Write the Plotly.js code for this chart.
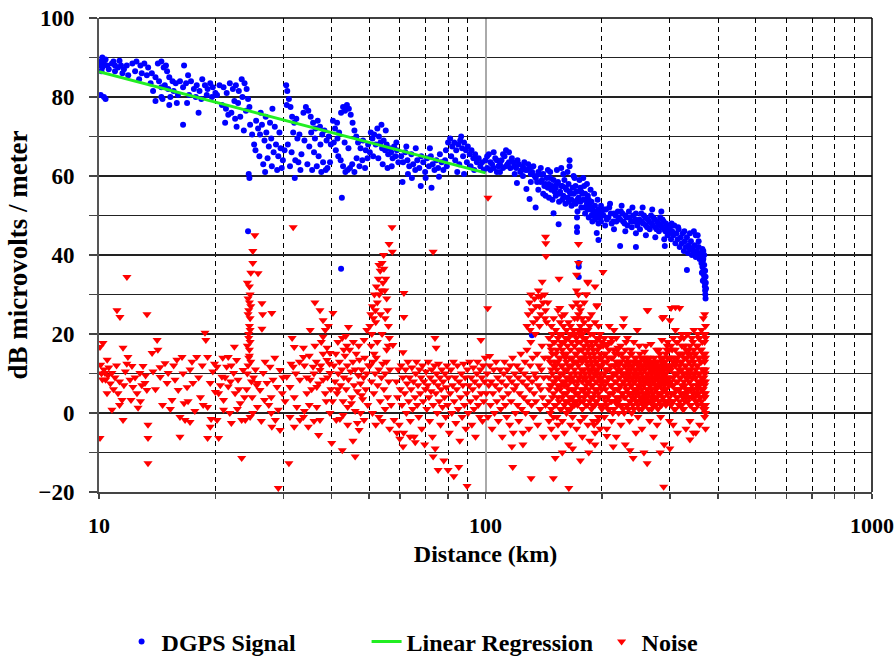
<!DOCTYPE html>
<html>
<head>
<meta charset="utf-8">
<script src="https://cdn.plot.ly/plotly-3.0.1.min.js"></script>
<style>
html,body{margin:0;padding:0;background:#fff;}
#chart{width:894px;height:657px;}
</style>
</head>
<body>
<div id="chart"></div>
<script>
// ---------- DATA ----------
const regressionX = [10, 100];
const regressionY = [86.4, 60.8];

const xTickVals = [10, 100, 1000];
const xTickText = ['10', '100', '1000'];
const xMinorVals = [20, 30, 40, 50, 60, 70, 80, 90, 200, 300, 400, 500, 600, 700, 800, 900];
const yTickVals = [-20, 0, 20, 40, 60, 80, 100];
const yMinorVals = [-10, 10, 30, 50, 70, 90];

// DGPS signal [km, dB]
const signalPoints = [
[10.05,88],[10.1,89],[10.15,86.5],[10.2,90],[10.3,88.5],[10.4,89.5],[10.2,87.5],[10.5,88],[10.1,80.5],[10.3,80],[10.4,79.5],[10.6,87],[10.8,88.5],[11,88],[11.2,87.5],[11.4,88],[11.6,87],[11.8,88],[11,86.5],[11.5,86],[11.9,85.5],[10.9,89],[11.3,89.2],
[12.2,88.5],[12.5,89],[12.8,88],[13.1,88.5],[13.4,87.5],[12.4,86.5],[12.9,86],[13.3,85.5],[13.7,86],[14,85],[14.3,84],[13.6,83.5],[14.5,82.5],[14.8,83],[14.2,88.5],[14.5,89],[14.7,87.5],[15,86.5],[15.2,85],[15.5,84],[15.8,83.5],[15.1,82],[15.6,81.5],[16,80.5],[15.3,80],[15.9,78.5],[14.6,79.5],[13.8,81.5],[12.7,84.5],[14.9,88],[14,79],[14.5,80],[15.2,78],[16.5,73],[16.9,78.5],[18.1,76],
[16.2,84],[16.5,82.5],[16.8,83.5],[17,85.5],[17.3,84],[17.6,82],[17.9,83],[18.2,81.5],[18.5,84.5],[18.8,83],[19.1,82],[19.4,83.5],[19.7,82.5],[20,81],[16.6,88],[17.1,80.5],[17.8,80],[18.4,79.5],[19,80.5],[19.6,80],[20.2,80.5],
[20.5,83],[21,82.5],[21.4,81],[21.8,83.5],[22.2,82],[22.6,83],[23,81.5],[23.4,84.5],[23.8,83.5],[24.1,82],[22.4,79],[22.9,78.5],[23.5,80],[24.3,79.5],[20.8,78],[21.3,77],[21.6,75.5],[22,76],[22.5,74.5],[23.2,75],[24,76.5],[24.5,77.5],[21.2,73.5],[22.7,72.5],[23.7,71.5],[24.6,73],[24.4,60.5],[24.5,59.5],[24.9,70.5],[25.2,68],
[25.5,74],[25.8,72],[26.1,70.5],[26.4,73],[26.8,69],[27.1,71],[27.5,67.5],[27.9,69.5],[28.3,66],[28.7,68],[29.1,65],[29.5,67],[29.9,64],[25.4,66.5],[26,65],[26.6,63],[27.3,64.5],[28,62.5],[28.9,61.5],[29.7,62],[26.2,76],[27,75],[27.7,73.5],[28.5,72.5],[29.3,71],[28.1,77],[26.9,61],[30.2,66.5],
[30.5,83],[30.7,81.5],[31,79.5],[30.6,78],[31.3,77.5],[31.6,75],[32,73.5],[32.4,74.5],[31.8,71],[32.6,69.5],[33,70.5],[30.8,68],[31.5,66],[32.2,64],[32.8,63.5],[31.2,62.5],[33.4,65.5],[33.2,61.5],[32.1,59.5],
[33.8,76],[34.3,77.5],[34.8,76.5],[35.3,75],[35.8,73.5],[36.3,72],[36.8,74],[37.3,72.5],[37.8,70.5],[38.3,71.5],[38.8,69],[39.3,70],[39.8,68],[34,69],[35,67.5],[36,66],[37,65],[38,63.5],[39,62],[34.6,63],[35.6,61.5],[36.6,62.5],[37.6,61],[38.6,61.5],[39.6,63.5],[36.2,69.5],[35.4,71],[37.4,68],
[40.3,74],[40.8,72],[41.3,73.5],[41.8,71],[42.3,76],[42.8,77.5],[43.3,76.5],[43.8,78],[44.3,77],[44.8,75.5],[45.3,73.5],[45.8,71.5],[46.3,70],[46.8,68.5],[47.5,67],[48.2,69],[49,66.5],[49.7,68],[41,66.5],[41.6,65],[42.2,64],[42.8,62.5],[43.4,61],[44,61.5],[44.6,62],[45.2,63],[45.8,61],[46.4,64.5],[47.2,62.5],[48,64],[48.8,62],[49.5,64.5],[42.5,54.5],[43.2,68.5],[44.2,67],[40.5,68.5],[41.4,69.5],
[50.5,71],[51,69.5],[51.5,70.5],[52,68],[52.5,72],[53,70],[53.5,68.5],[54,67],[54.5,69],[55,66.5],[55.5,68],[56,65.5],[56.5,67],[57,66],[57.5,64.5],[58,67.5],[58.5,65],[59,66.5],[59.5,63.5],[51.2,65],[52.8,64.5],[54.2,63],[55.8,62],[57.2,62.5],[50.2,66],[53.8,73],[55.2,71.5],[58.8,68.5],
[60.5,65],[61.2,63.5],[62,66],[62.8,64],[63.5,62.5],[64.3,65.5],[65,63],[65.8,61.5],[66.6,64],[67.4,62],[68.2,65],[69,63.5],[69.8,61],[70.6,64.5],[71.4,62.5],[72.2,65],[73,63],[73.8,61.5],[74.6,64],[75.4,62],[76.2,65.5],[77,63.5],[77.8,61.5],[78.6,64],[79.4,62.5],[61,58.5],[64.5,59.5],[68,57.5],[72.5,57],[63,60.5],[70,59.5],[75.8,59.8],[62.4,67.5],[66,67],[71.8,67],[79,66.5],
[80,68.5],[81,69.5],[82,67.5],[83,68.5],[84,66.5],[85,68],[86,69],[87,67],[88,68.5],[89,66.5],[90,67.5],[91,65.5],[92,66.5],[93,64.5],[94,65.5],[95,63.5],[96,64.5],[97,62.5],[98,63.5],[99,61.5],[81.5,65],[83.5,64],[85.5,63],[87.5,65],[89.5,63.5],[91.5,62.5],[93.5,61.5],[84.5,61],[88,60.5],[86.5,70],
[100,64],[102,65.5],[104,63],[106,64.5],[108,62.5],[110,64],[112,65],[114,63],[116,62],[118,63.5],[120,62],[122,63],[124,61.5],[126,63.5],[128,61.5],[130,62],[132,61],[134,60],[136,58.5],[138,60.5],[140,59],[142,57.5],[144,59.5],[146,58],[148,56.5],[150,59],[152,57],[154,58.5],[156,56],[158,57.5],[160,59],[162,56.5],[164,58],[166,55.5],[168,57],[170,59.5],[172,56],[174,54.5],[103,61.5],[107,61],[111,62],[115,66],[119,60.5],[125,60],[131,58.5],[137,56.5],[143,55],[149,54],[155,53.5],[161,53],[167,52.5],[165,64],[165,62.5],[120.6,58.2],[127.6,56.7],[130,54.2],[134.8,52],[154.6,47.8],[150,50.6],[147,61],[153,61.5],[159,60.5],[105,66],[113,66.5],[101,62],[109,61],[139,62],[145,61.5],[157,62],[163,61],[169,60],[171,53],[173,51],
[101,65],[103,63.5],[105,62],[107,64],[109,63],[111,65.5],[113,62.5],[115,63.5],[117,64.5],[119,62.5],[121,64],[123,61],[125,62.5],[127,61.5],[129,63],[131,60.5],[133,62.5],[135,59.5],[137,61],[139,58.5],[141,60.5],[143,58],[145,57],[147,59.5],[149,57.5],[151,56],[153,58],[155,55.5],[157,57.5],[159,55],[161,57],[163,54.5],[165,56],[167,54],[169,55.5],[171,57.5],[173,54],[141,55.5],[146,54.5],[152,55],[158,54],[164,53.5],[170,53.5],
[172.5,49.5],[172.5,47],[172.5,45.8],[174.3,38],[174.3,37],[174.3,34.4],[176,57],[178,55.5],[180,57.5],[182,54],[184,55],[186,52.5],[188,53.5],[190,51],[192,52.5],[194,50.5],[196,51.5],[198,49.5],[200,51],[177,52],[181,50.5],[185,49.5],[189,48.5],[175,59],[179,59.5],[183,58],[187,56.5],[191,55.5],[195,54],[199,52.5],[194,45.6],[196,43.8],
[177,56],[179,54],[181,55.5],[183,53],[185,54],[187,51.5],[189,52],[191,50],[193,51],[195,49.5],[197,50.5],[199,48.5],[176,53.5],[180,52],[184,51.5],[188,50],[192,49],[196,48],
[202,50],[205,51.5],[208,49.5],[211,50.5],[214,48.5],[217,50],[220,51],[223,49],[226,50.5],[229,48],[232,49.5],[235,51],[238,48.5],[241,50],[244,49],[247,47.5],[250,49],[253,50.5],[256,48],[259,49.5],[262,47],[265,48.5],[268,50],[271,47.5],[274,49],[277,46.5],[280,48],[283,49.5],[286,47],[289,48.5],[292,46],[295,47.5],[298,45.5],[204,47.5],[215,46.5],[230,46],[245,45.5],[260,45],[275,44.5],[290,44],[210,53],[225,52.5],[240,52],[255,52],[270,51.5],[285,51],[223,42.3],[245,42],[291,42.3],
[203,51.5],[206,49],[209,52],[212,48],[215,50.5],[218,48.5],[221,49.5],[224,51],[227,48.5],[230,50],[233,47.5],[236,49.5],[239,47],[242,48.5],[245,50.5],[248,48],[251,46.5],[254,48.5],[257,50],[260,47.5],[263,49],[266,46.5],[269,48],[272,49.5],[275,47],[278,48.5],[281,46],[284,47.5],[287,49],[290,46.5],[293,48],[296,45],[299,46.5],
[300,47],[304,46],[308,47.5],[312,45.5],[316,46.5],[320,44.5],[324,45.5],[328,43.5],[332,44.5],[336,42.5],[340,43.5],[344,41.5],[348,42.5],[352,41],[356,42],[360,40.5],[364,41.5],[368,40],[302,44],[310,43],[318,42],[326,41],[334,40.5],[342,40],[350,39.5],[358,39],[365,38.5],[338,45.5],[346,46],[354,45],
[306,45],[314,44],[322,43],[330,42],[338,41.5],[346,40.5],[354,40],[362,39.5],[303,48],[315,47],[327,46],[340,41.5],[356,43.5],[366,41],
[362,38],[364,37],[366,36],[367,35],[368,34],[369,33],[369.5,32],[370,31],[370.5,30],[371,29],[366,39],[368,37.5],[370,36],[371,34.5],[371.5,33],[372,31.5],[363,35.5],[365,33.5],[350,45],[332,36.2],
[24.3,46],[42.3,36.5],[131.9,19.7]
];

// Noise, scattered points [km, dB]
const noisePoints = [
[10.06,16.7],[10.24,17.7],[10.06,-6.3],[10.1,12.2],[10.15,10],[10.2,8.5],[10.3,11],[10.36,10.1],[10.4,8.4],[10.49,5],[10.55,9.5],[10.6,11.5],[10.7,7.5],[10.8,10.1],[10.8,0.8],[10.9,6],[11,9],[11.1,12],[11.2,5],[11.3,8],[11.47,3.3],[11.54,-1.8],[11.54,16.5],[11.6,7],[11.7,10.5],[11.88,14.2],[12.03,8.4],[12.17,11.9],[12.1,3.3],[12.24,6.6],[12.4,9],[12.54,5],[12.62,1.3],[12.76,10.1],[12.9,7],[13,11.9],[13.15,7.6],[13.3,5.8],[13.39,-3],[13.39,-6.3],[13.39,-12.7],[11.13,26],[11.33,24.3],[11.81,34.4],[13.31,25],[11.3,2],[12.8,3],[13.2,9.5],[10.5,13.5],[11.8,12.5],
[13.72,15.2],[14.14,18.5],[14.2,16],[14.38,11.6],[14.4,9.1],[14.82,12.6],[15,7.6],[15.1,10.1],[15.45,3.3],[15.6,12],[15.73,8.4],[16.03,5.8],[16.2,-1],[16.4,14.2],[16.5,10],[16.7,-1.8],[16.9,6.5],[17.2,-2.3],[17.2,11],[17.5,7.6],[17.9,14.2],[18.1,9],[18.3,4],[18.5,12],[18.8,20.3],[18.9,18.5],[19.1,14.2],[19.4,7.6],[19.1,1.5],[19.1,-6.3],[19.4,-3.5],[19.5,-1.5],[20,5.3],[14,6],[14.6,2],[15.3,1],[16.2,-6],[17,3],[17.7,0.5],[18.6,2],[19.7,10.5],[13.8,10.5],[15.9,13.5],[16.6,2.5],[17.4,13],[19.9,12.5],
[20.2,11.7],[20.4,5],[20.8,9.2],[21,3.3],[21.4,11.7],[21.6,6.7],[21.8,0],[22.3,10.1],[22.5,5],[22.7,13.4],[22.9,8.4],[23.2,2.5],[23.6,10.9],[23.9,-1.8],[20.2,-1.8],[20.4,-6.3],[21,0.8],[22,-2.5],[23.4,-1.8],[23.4,-11.4],[22.4,16.8],[21.6,14.2],[20.6,7],[21.2,9],[22,12],[23,6],[23.8,4],[20.9,14],[22.8,1],[21.9,8],
[24.2,10],[24.3,12],[24.4,14],[24.5,16],[24.6,18],[24.4,20],[24.5,22],[24.6,24],[24.4,26],[24.5,28],[24.6,30],[24.5,32],[24.2,33],[24.7,35.5],[25.8,35.4],[25,38],[25,41],[25.3,45],[24.2,17],[24.3,25],[24.7,13],[24.8,8],[24.1,6],[24.9,4],[25.1,9],[25.4,11],[25.6,7],[24.4,19],[24.6,21],[24.3,29],[24.5,14.5],[24.7,27],[26.4,27.8],[26.5,25],[26.4,21.3],[28,25.3],
[26.6,10.1],[27.2,7.6],[27.7,11.7],[28.2,8.4],[27.9,4],[28.9,6.6],[29.4,10.9],[29.8,5],[29.1,0.8],[28.6,-1.8],[27.9,0],[29.4,-4.3],[26.1,5.8],[25.7,7.6],[25.7,1.5],[24.6,-1],[25,0],[26.8,3.3],[29.1,-19],[26.9,13],[28.5,14],[27.5,2],[26.3,-2],[28,-3.5],[29.9,9],
[30.6,9.2],[31.2,6.6],[31.8,11.7],[32,4],[32.5,1.5],[33.1,8.4],[33.8,14.2],[34.5,5],[35.2,8.4],[35.8,11.7],[36.6,6.6],[37.3,10.9],[38,8.4],[38.9,13.4],[39.6,10.1],[31.2,-1],[32,-3.5],[33.1,-1.8],[33.8,-1],[34.8,-3.5],[36.6,1.5],[37.3,-1.8],[37,-5.6],[39.6,0],[31,-12.7],[31.8,47],[31.6,19],[32,16.7],[33.8,16.5],[35.2,21],[36.2,28],[37.3,26],[38,23.5],[38.5,21],[40.3,25.3],[39.2,22],[38,19.3],[38.9,16.5],[39.6,15.2],[34,12],[34.5,9],[35,14.5],[35.5,6],[36,10],[36.5,13],[37,7.5],[37.5,12],[38,15],[38.5,5],[39,9],[39.5,12.5],[36.2,17],[37.6,18],[38.7,3],[39.8,6],[33,13],[32.3,10],[31.4,12.5],[30.3,3],[35,2],[36,-2],[34,0.5],
[40.5,12],[40.8,8],[41,15],[41.3,5],[41.6,10],[41.9,13],[42.2,7],[42.5,11],[42.8,3],[43,9],[43.3,14.5],[43.6,6],[43.9,12],[44.2,8.5],[44.5,16],[44.8,10.5],[45.1,4],[45.4,13],[45.7,7],[46,11],[46.3,15],[46.6,5.5],[46.9,9.5],[47.2,13.5],[47.5,7.5],[47.8,11],[48.1,3.5],[48.4,9],[48.7,14],[49,6],[49.3,10],[49.6,2],[41.5,18],[43.5,19.5],[45.5,18],[47,17],[48.5,18.5],[44,1.5],[46,0.5],[42,-1.5],[40.2,3],[42.6,-9.4],[46,-11],[45.4,-7],[40,-7.6],[41.1,-1.8],[42.8,-0.5],[44,-3],[46.6,-2.5],[47.5,0],[48.5,-1.8],[47.1,-4.3],[44.2,21.8],[49.3,21],[42.6,19],[43.8,17],[41.5,6],[43,16],[45,2.5],[47.8,4.5],[49.8,12],
[50.2,22],[50.5,25],[50.8,20],[51,27],[51.3,24],[51.6,30],[51.9,26],[52.2,32],[52.5,28],[52.8,34],[53.1,30],[53.4,36],[53.7,31],[54,38],[54.3,33],[54.6,36.5],[54.9,31],[55.2,34],[55.5,29],[55.8,26],[56.1,22],[56.4,19],[56.3,42.8],[57.3,47],[57.4,40.8],[53,37.5],[54.5,40],[52,23],[53.5,25],[55,24],[56,17],[50.6,17],[51.5,15],[52.5,18],[54,20],[55.5,16],
[50.3,12],[50.7,8],[51.1,13],[51.4,5],[51.8,10],[52.2,14],[52.6,7],[53,11],[53.4,3],[53.8,9],[54.2,12.5],[54.6,6],[55,10],[55.4,13],[55.8,4],[56.2,8],[56.6,11],[57,2],[51,0],[53,-1],[55,1],[52,-3],[54,-2],[56.5,-4],[57.6,17.2],
[58.8,8],[59.2,4],[59.5,11],[59.8,-3],[60.2,6],[60.5,12],[60.8,2],[61.1,9],[61.2,15.4],[61.5,24.3],[61.5,30.4],[61.4,-5],[61.8,5],[62.1,11],[62.4,0],[62.7,7.5],[63,13],[63.3,3],[63.6,9],[63.9,-2],[64.2,6],[64.5,11.5],[64.8,1],[65.1,8],[65.4,-6],[65.7,4],[66,10],[66.3,13],[66.6,2],[66.9,7],[67.2,-1],[67.5,11],[67.8,5],[68.1,9],[68.4,-4],[68.7,12],[69,3],[69.3,8],[69.6,-8],[69.9,6],[70.2,10.5],[70.5,1],[70.8,7],[71.1,13],[71.4,4],[71.7,-2],[72,9],[72.3,5.5],[72.6,11],[72.9,-6],[73.2,2],[73.5,8],[73.8,12],[74.1,-9],[74.4,5],[74.7,10],[75,0],[75.3,7],[75.6,12.5],[75.9,3],[76.2,9],[76.5,-3],[76.8,6],[77.1,11],[77.4,1.5],[77.7,8],[78,-12],[78.3,4],[78.6,10],[78.9,-1],[79.2,6.5],[79.5,12],[79.8,2],[80.2,9],[80.6,-5],[81,5],[81.4,11],[81.8,0],[82.2,7],[82.6,13],[83,3],[83.4,9],[83.8,-2.5],[84.2,6],[84.6,12],[85,1],[85.4,8],[85.8,-7],[86.2,4],[86.6,10],[87,-1],[87.4,7],[87.8,12.5],[88.2,2],[88.6,9],[89,-4],[89.4,5],[89.8,11],[90.2,0],[90.6,7],[91,13],[91.4,3],[91.8,9],[92.2,-3],[92.6,6],[93,11.5],[93.4,1],[93.8,8],[94.2,-6],[94.6,4],[95,10],[95.4,13],[95.8,2],[96.2,7],[96.6,-1],[97,11],[97.4,5],[97.8,9],[98.2,-2],[98.6,12],[99,3],[99.4,8],[99.8,14],
[74,19],[73.2,40.8],[97.3,18.5],[101.3,26.5],[102.5,14.4],[75.4,-14.4],[80,-14.4],[82.8,-16],[89.6,-18.5],[85.3,-13.7],[73.2,-11],[74.5,16.5],[58,-1.8],[59,-5],[60,-6.5],[61.2,-8.5],[63.8,-6],[65.8,-7.4],[101.5,54.5],
[100.5,5],[101,10],[101.5,-1],[102,7],[102.5,12],[103,2],[103.5,8],[104,-4],[104.5,5],[105,11],[105.5,0],[106,7],[106.5,13],[107,3],[107.5,9],[108,-2],[108.5,6],[109,11],[109.5,1],[110,8],[110.5,-6],[111,4],[111.5,10],[112,13],[112.5,2],[113,7],[113.5,-1],[114,11],[114.5,5],[115,9],[115.5,-3],[116,12],[116.5,3],[117,8],[117.5,14],[118,-5],[118.5,6],[119,10],[119.5,0],[120,7],[120.5,12],[121,2],[121.5,9],[122,-2],[122.5,5],[123,11],[123.5,15],[124,1],[124.5,8],[125,-8],[125.5,4],[126,10],[126.5,13],[127,0],[127.5,7],[128,16],[128.5,3],[129,9],[129.5,-4],[130,6],[130.5,12],[131,18],[131.5,2],[132,8],[132.5,14],[133,-1],[133.5,5],[134,10],[134.5,20],[135,3],[135.5,9],[136,15],[136.5,-3],[137,7],[137.5,12],[138,22],[138.5,1],[139,6],[139.5,11],[140,17],[140.5,4],[141,-6],[141.5,9],[142,14],[142.5,24],[143,2],
[128,22],[129,25],[130,28],[130.5,21],[131,30],[132,26],[133,23],[134,29],[135,27],[136,24],[137,31],[138,27],[139,25],[140.2,33.2],[141,28],[142,30],[143,26],[144,23],[145,28],[143,44.6],[143.2,43],[143.4,39.7],[155,34],[137,29.6],[139,29.4],
[131.2,-16.5],[149.8,-16.5],[164.3,-19],[151.5,-11.4],[117.6,-13.7],[117,-8.5],[125,-5],[158,-10],[168,-9],[176,-12],[185,-10],[192,-8],
[201.4,35.7],[194.6,27.3],[183.8,33.2],[182.4,30],[155.7,26.6],[157.5,24.5],[192,32],[228,24],[247,21],[262,26],[289,24.3],[300,23.5],[310,26.8],
[289,-18.7],[262,-12.7],[241,-11.4],[283,-10],[300,-9],[338,-6.7],[345,-5],[236.5,-9.4],[214,-8.5],[206,-5.8],
[205,17.5],[212,19],[220,16.5],[231,18],[238,16],[250,17],[258,15.5],[268,17.5],[277,16],[286,18.5],[295,17]
];

// Noise, dense band columns: distance (km) and the dB values found at it
const noiseColX = [146,148,150,152,154,156,158,160,162,164,166,168,170,172,174,176,178,180,182,184,186,188,190,192,194,196,198,200,
147,149,151,153,155,157,159,161,163,165,167,169,171,173,175,177,179,181,183,185,187,189,191,193,195,197,199,
203,206,209,212,215,218,221,224,227,230,233,236,239,242,245,248,251,254,257,260,263,266,269,272,275,278,281,284,287,290,293,296,299,
201.5,204.5,207.5,210.5,213.5,216.5,219.5,222.5,225.5,228.5,231.5,234.5,237.5,240.5,243.5,246.5,249.5,252.5,255.5,258.5,261.5,264.5,267.5,270.5,273.5,276.5,279.5,282.5,285.5,288.5,291.5,294.5,297.5,
302,306,310,314,318,322,326,330,334,338,342,346,350,354,358,362,366,369,371,
304,308,312,316,320,324,328,332,336,340,344,348,352,356,360,364,367.5,370];
const noiseColY = [
[3,9,14,19,-2,6],[11,1,16,7,22,-4],[5,12,18,-1,8,24],[9,2,15,21,-6,12],[4,13,7,19,-3,26],[10,1,17,6,23,14],[8,-2,12,20,4,16],[2,11,18,7,-5,25],[13,5,9,21,0,15],[6,12,19,3,-8,23],[10,1,16,8,22,-3],[4,14,20,9,-1,27],[11,6,17,2,24,13],[7,15,28,3,19,-4,31,35],[12,5,21,9,30,25,38,42.8,16],[3,10,18,26,-2,14,22],[8,13,20,1,24,-6,16],[6,11,17,23,4,-1,28],[9,14,2,19,30,7],[5,12,21,33,-3,16],[10,3,15,22,8,-7],[7,13,18,1,25,11],[4,9,16,20,-2,12],[11,6,14,23,2,-5],[8,13,3,19,27,10],[5,12,17,-1,9,22],[10,2,15,7,20,-4],[6,12,18,1,9,14],
[0,7,13,17],[4,10,15,20],[2,8,13,18],[6,11,16,-1],[3,9,14,20],[7,12,18,1],[5,10,15,22],[3,8,14,19],[1,7,11,17],[4,9,14,20],[6,12,18,2],[3,8,13,21],[5,10,15,20],[2,8,13,18,24],[4,9,14,20,27],[6,11,16,21],[3,9,14,19],[5,10,15,21],[2,8,13,18],[6,11,17,24],[4,9,14,20],[2,7,12,17],[5,10,15,-3],[3,8,13,18],[6,11,16,-2],[4,9,14,19],[2,8,12,17],
[4,10,15,19,-1,7],[8,13,2,17,11,-4],[5,11,16,22,1,9],[9,3,14,7,18,-2],[6,12,1,16,10,21],[10,4,13,8,19,-6],[3,9,15,6,12,0],[7,11,2,17,13,-3],[5,10,14,22,1,8],[9,4,12,7,16,-8],[6,11,2,14,19,9],[8,3,13,10,5,-2],[4,9,15,7,12,0],[10,6,1,13,8,18],[5,11,3,9,14,-5],[7,12,2,10,6,-1],[9,4,13,8,11,15],[6,10,1,12,4,-4],[8,3,11,7,14,-10],[5,9,2,12,8,17],[10,6,13,4,9,26],[7,3,11,8,14,-2],[4,9,12,6,1,10],[8,11,5,13,3,-6],[6,10,2,9,12,7],[9,4,13,7,11,-3],[5,10,3,12,8,16],[7,11,2,9,14,-1],[4,8,12,6,10,24],[9,3,11,7,13,-8],[6,10,2,12,15,8],[8,5,11,14,3,18],[7,12,4,9,16,-2],
[8,13,2,17],[6,11,3,15],[9,4,14,1],[7,12,3,18],[5,10,14,0],[8,3,12,15],[6,11,2,16],[9,4,13,7],[5,10,2,15],[8,12,4,0],[6,10,13,2],[9,5,12,1],[7,11,3,15],[5,9,12,2],[8,4,11,14],[6,10,3,13],[9,5,12,1],[7,11,3,14],[5,9,12,2],[8,4,11,13],[6,10,3,14],[9,5,12,1],[7,11,3,13],[5,9,12,2],[8,4,11,14],[6,10,2,13],[9,5,12,1],[7,11,3,15],[5,9,13,2],[8,4,11,14],[6,10,3,13],[9,5,12,16],[7,11,3,14],
[5,11,17,2,8,14,26.6],[9,3,13,19,7,-3],[6,12,1,16,10,21],[10,4,14,8,18,-5],[3,9,15,6,12,26.6],[7,11,2,17,13,20],[5,10,14,1,8,19],[9,4,12,16,6,-4],[6,11,3,15,9,20],[8,13,2,10,17,-2],[4,9,14,7,19,12],[10,6,1,13,16,21],[5,11,3,9,15,-5],[8,12,2,17,6,20],[4,10,14,7,19,-3],[9,3,13,6,16,21],[6,11,1,15,8,24],[10,4,13,18,7,-1,25],[2,8,14,19,5,11,22,-4,0],
[7,12,3,16],[5,10,14,1],[8,13,4,18],[6,11,2,15],[9,13,5,19],[4,10,15,1],[7,12,3,17],[5,10,14,20],[8,13,4,16],[6,11,2,15],[9,14,5,18],[4,10,15,1],[7,12,3,17],[5,10,14,19],[8,13,4,16],[6,11,2,18],[9,14,5,20],[4,10,15,1,20]
];

// ---------- BUILD TRACES ----------
const sigX = signalPoints.map(p => p[0]);
const sigY = signalPoints.map(p => p[1]);
const noiX = noisePoints.map(p => p[0]);
const noiY = noisePoints.map(p => p[1]);
noiseColX.forEach((x, i) => { noiseColY[i].forEach(y => { noiX.push(x); noiY.push(y); }); });

const FAMILY = '"Liberation Serif", "Times New Roman", serif';
const xTickFont = {family: FAMILY, size: 22, color: '#000000', weight: 'bold'};
const yTickFont = {family: FAMILY, size: 23, color: '#000000', weight: 'bold'};
const xTitleFont = {family: FAMILY, size: 24, color: '#000000', weight: 'bold'};
const yTitleFont = {family: FAMILY, size: 27, color: '#000000', weight: 'bold'};
const legendFont = {family: FAMILY, size: 24, color: '#000000', weight: 'bold'};

const traces = [
  {type: 'scatter', mode: 'markers', name: 'DGPS Signal', x: sigX, y: sigY,
   marker: {color: '#0000ff', size: 6, symbol: 'circle', line: {width: 0}}, legendwidth: 200},
  {type: 'scatter', mode: 'lines', name: 'Linear Regression', x: regressionX, y: regressionY,
   line: {color: '#22ee22', width: 3}, legendwidth: 190},
  {type: 'scatter', mode: 'markers', name: 'Noise', x: noiX, y: noiY,
   marker: {color: '#ff0000', size: 8, symbol: 'triangle-down', line: {width: 0}}}
];

const layout = {
  width: 894, height: 657,
  margin: {l: 99, r: 22, t: 18, b: 165, pad: 0},
  paper_bgcolor: '#ffffff', plot_bgcolor: '#ffffff',
  font: xTickFont,
  showlegend: true,
  legend: {orientation: 'h', xref: 'container', yref: 'container', x: 0.136, xanchor: 'left', y: 0.023, yanchor: 'middle',
           font: legendFont, bgcolor: 'rgba(0,0,0,0)', traceorder: 'normal'},
  xaxis: {
    type: 'log', range: [1, 3], tickvals: xTickVals, ticktext: xTickText,
    showgrid: true, gridcolor: '#aaaaaa', gridwidth: 2,
    showline: true, linecolor: '#444444', linewidth: 2,
    ticks: 'outside', ticklen: 5, tickcolor: '#444444', tickwidth: 1.5,
    minor: {tickvals: xMinorVals, showgrid: true, gridcolor: '#000000', griddash: '5px,4px', gridwidth: 1,
            ticks: 'outside', ticklen: 5, tickcolor: '#444444', tickwidth: 1.5},
    zeroline: false, ticklabelstandoff: 8, tickfont: xTickFont,
    title: {text: 'Distance (km)', font: xTitleFont, standoff: 8},
    automargin: false, fixedrange: true
  },
  yaxis: {
    range: [-20, 100], tickvals: yTickVals,
    showgrid: true, gridcolor: '#222222', gridwidth: 1.5,
    showline: true, linecolor: '#555555', linewidth: 2,
    ticks: 'outside', ticklen: 8, tickcolor: '#444444', tickwidth: 1.5,
    minor: {tickvals: yMinorVals, showgrid: true, gridcolor: '#222222', gridwidth: 1.5,
            ticks: 'outside', ticklen: 8, tickcolor: '#444444', tickwidth: 1.5},
    zeroline: false, ticklabelstandoff: 10, tickfont: yTickFont,
    title: {text: 'dB microvolts / meter', font: yTitleFont, standoff: 3},
    automargin: false, fixedrange: true
  },
  shapes: [
    {type: 'line', xref: 'paper', yref: 'paper', x0: 1, x1: 1, y0: 0, y1: 1, line: {color: '#000', width: 1.5}},
    {type: 'line', xref: 'paper', yref: 'paper', x0: 0, x1: 1, y0: 1, y1: 1, line: {color: '#000', width: 1.5}}
  ]
};

Plotly.newPlot('chart', traces, layout, {displayModeBar: false, staticPlot: true});
</script>
</body>
</html>
